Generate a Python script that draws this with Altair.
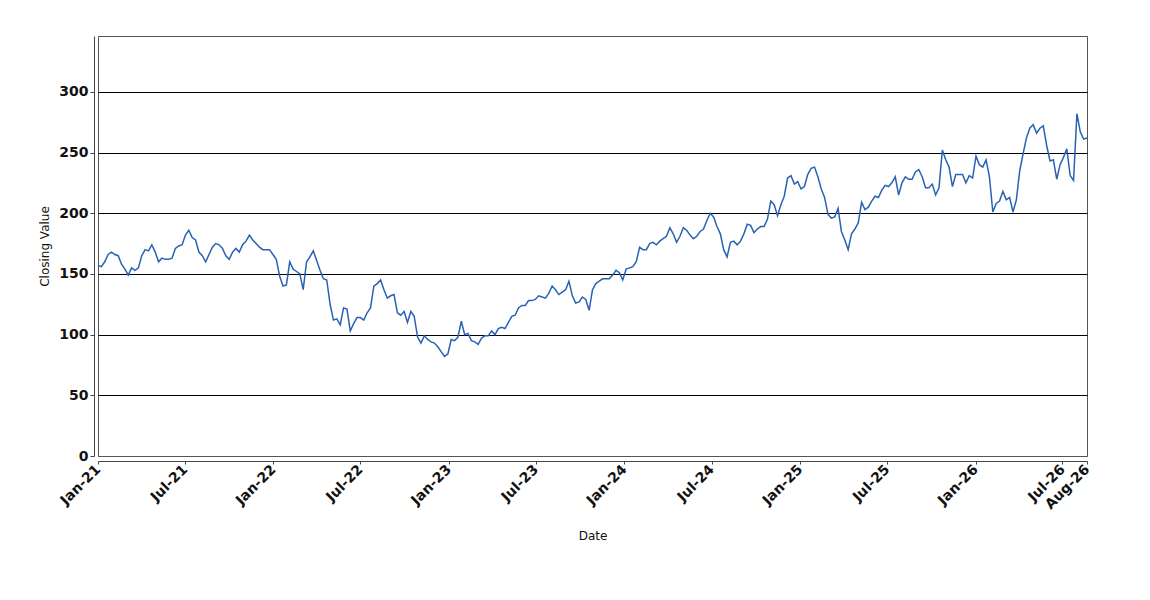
import altair as alt
import pandas as pd

# Weekly closing values (first week: 2021-01-01)
vals_2021 = [157, 156, 160, 166, 168, 166, 165, 158, 154, 149,
             155, 153, 155, 165, 170, 169, 174, 168, 160, 163,
             162, 162, 163, 171, 173, 174, 182, 186, 180, 178,
             168, 165, 160, 166, 172, 175, 174, 171, 165, 162,
             168, 171, 168, 174, 177, 182, 178, 175, 172, 170]
vals_2022 = [170, 170, 166, 162, 148, 140, 141, 160, 154, 152,
             150, 137, 160, 164, 169, 161, 153, 146, 145, 125,
             112, 113, 108, 122, 121, 103, 109, 114, 114, 112,
             118, 122, 140, 142, 145, 137, 130, 132, 133, 118,
             116, 119, 110, 119, 115, 98, 93, 99, 96, 94]
vals_2023 = [93, 90, 86, 82, 84, 96, 95, 98, 111, 100,
             101, 95, 94, 92, 97, 99, 99, 103, 100, 105,
             106, 105, 110, 115, 116, 122, 124, 124, 128, 128,
             129, 132, 131, 130, 134, 140, 137, 133, 135, 137,
             144, 132, 126, 127, 131, 129, 120, 137, 142]
vals_2024 = [144, 146, 146, 146, 149, 153, 151, 145, 154, 155,
             156, 160, 172, 170, 170, 175, 176, 174, 177, 179,
             181, 188, 183, 176, 181, 188, 186, 182, 179, 181,
             185, 187, 194, 200, 197, 189, 183, 170, 164, 176,
             177, 174, 177, 183, 191, 190, 184, 187, 189, 189]
vals_2025 = [195, 210, 207, 198, 207, 214, 229, 231, 224, 226,
             220, 222, 232, 237, 238, 230, 220, 213, 199, 196,
             197, 204, 185, 178, 170, 183, 187, 192, 209, 203,
             205, 210, 214, 213, 219, 223, 222, 225, 230, 215,
             225, 230, 228, 228, 234, 236, 230, 221, 221]
vals_2026 = [224, 215, 221, 252, 244, 238, 222, 232, 232, 232,
             225, 231, 229, 247, 240, 238, 244, 230, 201, 208,
             210, 218, 211, 213, 201, 211, 235, 249, 262, 270,
             273, 266, 270, 272, 256, 243, 244, 228, 240, 246,
             253, 231, 227, 282, 267, 261, 262]

values = vals_2021 + vals_2022 + vals_2023 + vals_2024 + vals_2025 + vals_2026
dates = pd.date_range("2021-01-01", periods=len(values), freq="7D")
df = pd.DataFrame({"Date": dates.strftime("%Y-%m-%d"), "Close": values})

tick_dates = [(2021, 1, 1), (2021, 7, 1), (2022, 1, 1), (2022, 7, 1),
              (2023, 1, 1), (2023, 7, 1), (2024, 1, 1), (2024, 7, 1),
              (2025, 1, 1), (2025, 7, 1), (2026, 1, 1), (2026, 7, 1),
              (2026, 8, 21)]
y_ticks = [0, 50, 100, 150, 200, 250, 300]

FONT = "DejaVu Sans"

chart = alt.Chart(df).mark_line(color="#2862b4", strokeWidth=1.5).encode(
    x=alt.X(
        "Date:T",
        title="Date",
        scale=alt.Scale(type="utc",
                        domain=[alt.DateTime(year=2021, month=1, date=1, utc=True),
                                alt.DateTime(year=2026, month=8, date=21, utc=True)]),
        axis=alt.Axis(
            values=[alt.DateTime(year=y, month=m, date=d, utc=True) for (y, m, d) in tick_dates],
            labelExpr="utcFormat(datum.value, '%b-%y')",
            labelAngle=-45, labelAlign="right", labelBaseline="middle",
            labelFont=FONT, labelFontSize=14, labelFontWeight="bold",
            labelColor="#111111", labelPadding=3, labelOverlap=False,
            tickSize=3, tickColor="#444444", domainColor="#444444", offset=5,
            grid=False, titleFont=FONT, titleFontSize=12, titleFontWeight="normal",
            titleColor="#111111", titlePadding=19,
        ),
    ),
    y=alt.Y(
        "Close:Q",
        title="Closing Value",
        scale=alt.Scale(domain=[0, 346], nice=False, zero=True),
        axis=alt.Axis(
            values=y_ticks, labelFont=FONT, labelFontSize=14, labelFontWeight="bold",
            labelColor="#111111", labelPadding=2, tickSize=4, tickColor="#444444",
            domainColor="#444444", offset=4, grid=True,
            gridColor={"condition": {"test": "datum.value === 0", "value": "#555555"}, "value": "#000000"},
            gridWidth=1, titleFont=FONT, titleFontSize=12, titleFontWeight="normal",
            titleColor="#111111", titlePadding=7,
        ),
    ),
).properties(
    width=989, height=420,
    background="white",
    autosize=alt.AutoSizeParams(type="none"),
    padding={"left": 90, "top": 28, "right": 50, "bottom": 100},
).configure_view(stroke="#555555", strokeWidth=1)

chart.save("out.html", embed_options={"renderer": "svg", "actions": False})
